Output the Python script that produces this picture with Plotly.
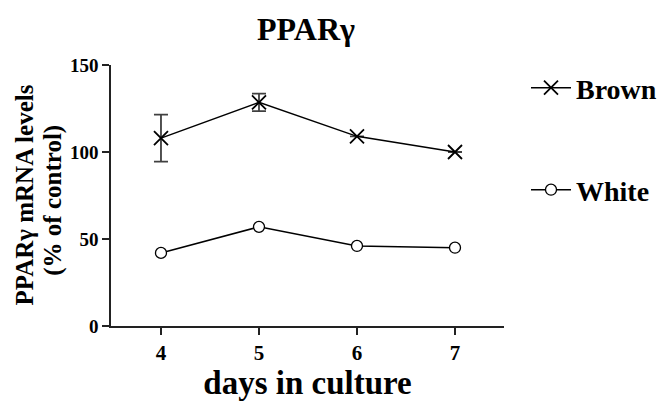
import plotly.graph_objects as go

days = [4, 5, 6, 7]
brown = [108, 128.5, 109, 100]
brown_err = [13.5, 5, None, None]
white = [42, 57, 46, 45]
y_ticks = [0, 50, 100, 150]

FONT = "Liberation Serif"
PLOT_L, PLOT_R, PLOT_T, PLOT_B = 111, 504, 65, 326
W, H = 668, 405


def px_to_paper_x(px):
    return (px - PLOT_L) / (PLOT_R - PLOT_L)


def px_to_paper_y(py):
    return (PLOT_B - py) / (PLOT_B - PLOT_T)


fig = go.Figure()

fig.add_trace(go.Scatter(
    x=days, y=brown, name="<b>Brown</b>", mode="lines+markers",
    line=dict(color="black", width=1.5),
    marker=dict(symbol="x-thin", size=14, color="black",
                line=dict(color="black", width=1.8)),
    error_y=dict(type="data", array=brown_err, color="#404040",
                 thickness=1.8, width=7),
    legend="legend",
))

fig.add_trace(go.Scatter(
    x=days, y=white, name="<b>White</b>", mode="lines+markers",
    line=dict(color="black", width=1.5),
    marker=dict(symbol="circle", size=11, color="white",
                line=dict(color="black", width=1.3)),
    legend="legend2",
))

axis_common = dict(
    showgrid=False, zeroline=False, showline=True, linecolor="#222",
    linewidth=1.5, ticks="outside", ticklen=7, tickwidth=1.5,
    tickcolor="#222",
)

# two-line y axis title, drawn as rotated annotations for tight line spacing
y_title_lines = [("<b>PPARγ mRNA levels</b>", 24, 0.5),
                 ("<b>(% of control)</b>", 53, 0.48)]
annotations = [
    dict(text=t, x=px_to_paper_x(px), y=yc, xref="paper", yref="paper",
         xanchor="center", yanchor="middle", textangle=-90, showarrow=False,
         font=dict(size=25, family=FONT, color="black"))
    for t, px, yc in y_title_lines
]

legend_style = dict(xanchor="left", yanchor="middle",
                    font=dict(size=28, family=FONT),
                    bgcolor="rgba(0,0,0,0)", itemwidth=40)

fig.update_layout(
    width=W, height=H,
    margin=dict(l=PLOT_L, r=W - PLOT_R, t=PLOT_T, b=H - PLOT_B,
                autoexpand=False),
    paper_bgcolor="white", plot_bgcolor="white",
    font=dict(family=FONT, color="black"),
    title=dict(text="<b>PPARγ</b>", xref="paper", x=px_to_paper_x(306),
               xanchor="center", yref="container", y=1 - 29 / H,
               yanchor="middle", font=dict(size=32, family=FONT)),
    xaxis=dict(range=[3.49, 7.5], tickvals=days,
               ticktext=[f"<b>{d}</b>" for d in days],
               tickfont=dict(size=21, family=FONT),
               title=dict(text="<b>days in culture</b>",
                          font=dict(size=33, family=FONT), standoff=6),
               **axis_common),
    yaxis=dict(range=[0, 150], tickvals=y_ticks,
               ticktext=[f"<b>{v}</b>" for v in y_ticks],
               tickfont=dict(size=19, family=FONT),
               **axis_common),
    annotations=annotations,
    legend=dict(x=px_to_paper_x(526), y=px_to_paper_y(88), **legend_style),
    legend2=dict(x=px_to_paper_x(526), y=px_to_paper_y(190), **legend_style),
    showlegend=True,
)

fig.write_html("out.html")
